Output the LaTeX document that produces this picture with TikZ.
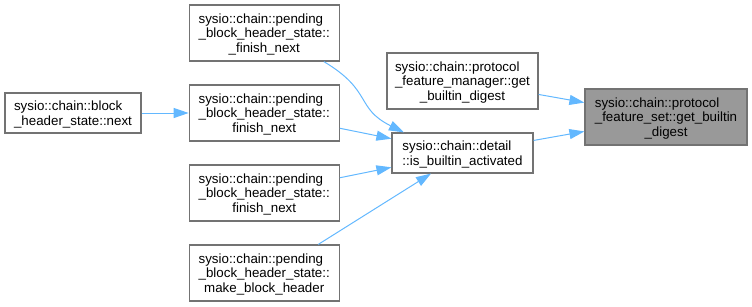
\documentclass[tikz,border=0pt]{standalone}
\usepackage{fontspec}
\setmainfont{Liberation Sans}
\usetikzlibrary{arrows.meta}

\definecolor{edgeblue}{HTML}{63B8FF}
\definecolor{boxline}{HTML}{737373}
\definecolor{focusfill}{HTML}{999999}

% label: leading lines flush left, final line centred (first row gets extra
% head room so the baselines sit slightly below the box centre)
\newcommand\dlines[2]{%
  \begin{tabular}{@{}l@{}}\rule{0pt}{13.9pt}#1\\\multicolumn{1}{@{}c@{}}{#2}\end{tabular}}

\tikzset{
  fn/.style={draw=boxline, line width=1.2pt, rectangle, inner sep=0pt,
    fill=white, minimum height=56pt,
    font=\fontsize{13.33}{14.7}\selectfont},
  fnshort/.style={fn, minimum height=40pt},
  focus/.style={fn, fill=focusfill},
  call/.style={draw=edgeblue, line width=1pt,
    -{Triangle[length=15pt,width=10pt]}},
}

\begin{document}
\begin{tikzpicture}[x=1pt,y=-1pt]
\useasboundingbox (0,0) rectangle (752,306);

% callers, far left
\node[fnshort, minimum width=136pt] (A) at (73,113)
  {\dlines{sysio::chain::block}{\_header\_state::next}};

% pending_block_header_state members
\node[fn, minimum width=150pt] (B1) at (264.25,33)
  {\dlines{sysio::chain::pending\\\_block\_header\_state::}{\_finish\_next}};
\node[fn, minimum width=150pt] (B2) at (264.25,113)
  {\dlines{sysio::chain::pending\\\_block\_header\_state::}{finish\_next}};
\node[fn, minimum width=150pt] (B3) at (264.25,193)
  {\dlines{sysio::chain::pending\\\_block\_header\_state::}{finish\_next}};
\node[fn, minimum width=150pt] (B4) at (264.25,273)
  {\dlines{sysio::chain::pending\\\_block\_header\_state::}{make\_block\_header}};

% middle column
\node[fn, minimum width=151pt] (D) at (462.5,81)
  {\dlines{sysio::chain::protocol\\\_feature\_manager::get}{\_builtin\_digest}};
\node[fnshort, minimum width=141pt] (C) at (462.5,153)
  {\dlines{sysio::chain::detail}{::is\_builtin\_activated}};

% the documented function
\node[focus, minimum width=162pt] (E) at (666,117)
  {\dlines{sysio::chain::protocol\\\_feature\_set::get\_builtin}{\_digest}};

% call edges
\draw[call] (A) -- (B2);
\draw[call] ([xshift=-16pt]B1.south east)
  .. controls (373,91) and (355,108) .. ([xshift=12.5pt]C.north west);
\draw[call] (B2) -- (C);
\draw[call] (B3) -- (C);
\draw[call] ([xshift=54pt]B4.north) -- ([xshift=-31.5pt]C.south);
\draw[call] (D) -- (E);
\draw[call] (C) -- (E);
\end{tikzpicture}
\end{document}
